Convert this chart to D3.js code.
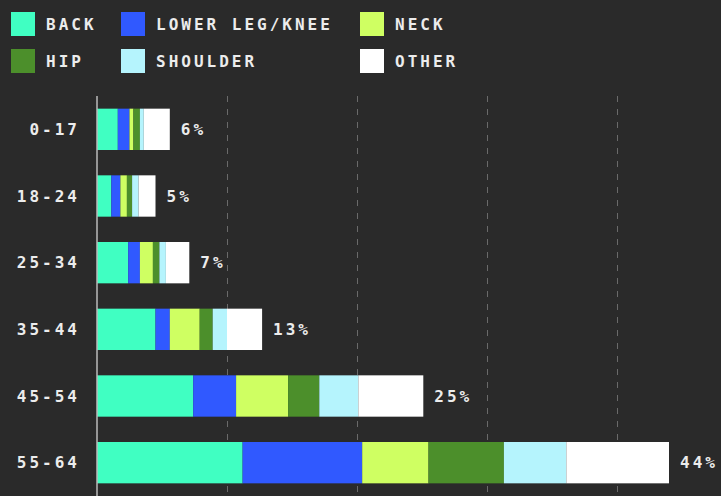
<!DOCTYPE html>
<html>
<head>
<meta charset="utf-8">
<script src="https://cdn.jsdelivr.net/npm/d3@7"></script>
<style>
  html, body { margin: 0; padding: 0; background: #2a2a2a; }
  svg { display: block; }
  text { font-family: "DejaVu Sans Mono", "Liberation Mono", monospace; font-weight: bold; fill: #ececec; }
</style>
</head>
<body>
<div id="chart"></div>
<script>
const ageGroups = ["0-17", "18-24", "25-34", "35-44", "45-54", "55-64"];
const injuries = ["BACK", "LOWER LEG/KNEE", "NECK", "HIP", "SHOULDER", "OTHER"];
const colors = ["#40ffc2", "#3059ff", "#cfff62", "#4c8f2b", "#b5f4fd", "#ffffff"]; // one per injury

// share of each injury type, in percent, per age group
const back = [1.6, 1.1, 2.4, 4.5, 7.4, 11.2];
const lowerLeg = [0.9, 0.7, 0.9, 1.1, 3.3, 9.2];
const neck = [0.3, 0.5, 1.0, 2.3, 4.0, 5.1];
const hip = [0.5, 0.4, 0.5, 1.0, 2.4, 5.8];
const shoulder = [0.3, 0.5, 0.5, 1.1, 3.0, 4.8];
const other = [2.0, 1.3, 1.8, 2.7, 5.0, 7.9];
const totalLabels = ["6%", "5%", "7%", "13%", "25%", "44%"];
const xTicks = [10, 20, 30, 40];

const width = 721; // outer width, in pixels
const height = 496; // outer height, in pixels

const series = [back, lowerLeg, neck, hip, shoulder, other];
const rows = ageGroups.map((g, i) => {
  const row = { group: g };
  injuries.forEach((k, j) => (row[k] = series[j][i]));
  return row;
});

const svg = d3
  .select("#chart")
  .append("svg")
  .attr("width", width)
  .attr("height", height);

const x = d3.scaleLinear().domain([0, 48]).range([97, 721]);
const y = d3.scaleBand().domain(ageGroups).range([96, 496]).paddingInner(0.38).paddingOuter(0.19);

// dashed gridlines
svg
  .append("g")
  .selectAll("line")
  .data(xTicks)
  .join("line")
  .attr("x1", (d) => Math.round(x(d)) + 0.5)
  .attr("x2", (d) => Math.round(x(d)) + 0.5)
  .attr("y1", 96)
  .attr("y2", height)
  .attr("stroke", "#6a6a6a")
  .attr("stroke-width", 1)
  .attr("stroke-dasharray", "6,7");

const stack = d3.stack().keys(injuries)(rows);

svg
  .append("g")
  .selectAll("g")
  .data(stack)
  .join("g")
  .attr("fill", (d, i) => colors[i])
  .selectAll("rect")
  .data((d) => d)
  .join("rect")
  .attr("x", (d) => x(d[0]))
  .attr("width", (d) => x(d[1]) - x(d[0]))
  .attr("y", (d) => y(d.data.group))
  .attr("height", y.bandwidth());

// axis line
svg
  .append("line")
  .attr("x1", 97)
  .attr("x2", 97)
  .attr("y1", 96)
  .attr("y2", height)
  .attr("stroke", "#bbbbbb")
  .attr("stroke-width", 1.5);

// category labels
svg
  .append("g")
  .selectAll("text")
  .data(ageGroups)
  .join("text")
  .attr("x", 80)
  .attr("y", (d) => y(d) + y.bandwidth() / 2)
  .attr("dy", "0.36em")
  .attr("text-anchor", "end")
  .attr("font-size", "16px")
  .attr("letter-spacing", "3px")
  .text((d) => d);

// totals
const last = stack[stack.length - 1];
svg
  .append("g")
  .selectAll("text")
  .data(last)
  .join("text")
  .attr("x", (d) => x(d[1]) + 11)
  .attr("y", (d) => y(d.data.group) + y.bandwidth() / 2)
  .attr("dy", "0.36em")
  .attr("font-size", "16px")
  .attr("letter-spacing", "3px")
  .text((d, i) => totalLabels[i]);

// legend
const legendX = [11, 121, 360];
const legend = svg
  .append("g")
  .selectAll("g")
  .data(injuries)
  .join("g")
  .attr("transform", (d, i) => `translate(${legendX[i % 3]}, ${12 + Math.floor(i / 3) * 37})`);

legend
  .append("rect")
  .attr("width", 24)
  .attr("height", 24)
  .attr("fill", (d, i) => colors[i]);

legend
  .append("text")
  .attr("x", 35)
  .attr("y", 12)
  .attr("dy", "0.36em")
  .attr("font-size", "16px")
  .attr("letter-spacing", "3px")
  .text((d) => d);
</script>
</body>
</html>
